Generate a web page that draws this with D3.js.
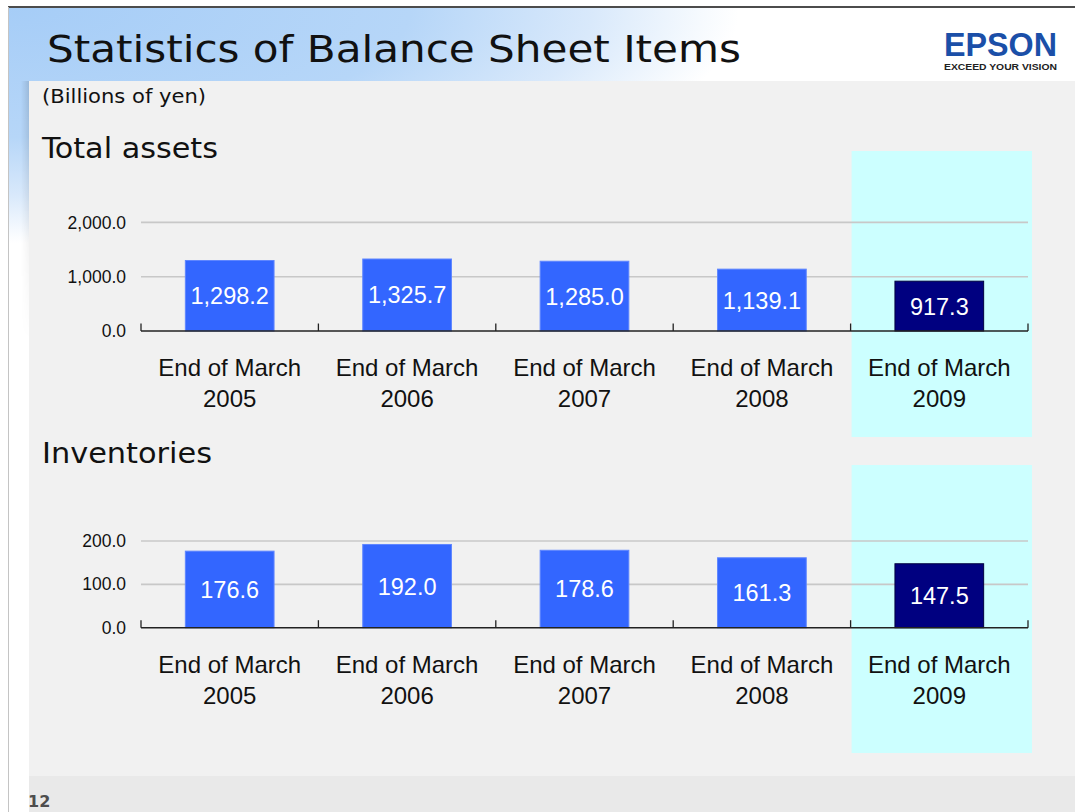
<!DOCTYPE html>
<html>
<head>
<meta charset="utf-8">
<script src="https://cdn.jsdelivr.net/npm/d3@7"></script>
<style>
  html, body { margin: 0; padding: 0; background: #ffffff; overflow: hidden; }
  svg { display: block; }
</style>
</head>
<body>
<svg id="chart" width="1075" height="812"></svg>
<script>
// ---------------- Data ----------------
const categories = ["End of March 2005", "End of March 2006", "End of March 2007", "End of March 2008", "End of March 2009"];
const totalAssets = [1298.2, 1325.7, 1285.0, 1139.1, 917.3];
const inventories = [176.6, 192.0, 178.6, 161.3, 147.5];
const assetTicks = [0, 1000, 2000];
const inventoryTicks = [0, 100, 200];
const highlightCategory = "End of March 2009";
const titleText = "Statistics of Balance Sheet Items";
const unitText = "(Billions of yen)";
const chartTitles = ["Total assets", "Inventories"];
const pageNumber = "12";

// ---------------- Setup ----------------
const svg = d3.select("#chart");
const W = 1075, H = 812;
const defs = svg.append("defs");

const rg = defs.append("radialGradient")
  .attr("id", "hdrGrad")
  .attr("gradientUnits", "userSpaceOnUse")
  .attr("cx", 0).attr("cy", 0).attr("r", 1)
  .attr("gradientTransform", "translate(9,8) scale(730,235)");
[[0, "#a6cdf7"], [0.55, "#b6d6f8"], [0.8, "#d9e9fb"], [0.95, "#f6fafe"], [1, "#ffffff"]]
  .forEach(([o, c]) => rg.append("stop").attr("offset", o).attr("stop-color", c));

const sh = defs.append("linearGradient").attr("id", "shadowGrad")
  .attr("x1", 0).attr("x2", 1).attr("y1", 0).attr("y2", 0);
sh.append("stop").attr("offset", 0).attr("stop-color", "#000").attr("stop-opacity", 0);
sh.append("stop").attr("offset", 1).attr("stop-color", "#000").attr("stop-opacity", 0.12);
const shMask = defs.append("linearGradient").attr("id", "shadowFade")
  .attr("x1", 0).attr("x2", 0).attr("y1", 0).attr("y2", 1);
shMask.append("stop").attr("offset", 0).attr("stop-color", "#fff").attr("stop-opacity", 1);
shMask.append("stop").attr("offset", 1).attr("stop-color", "#fff").attr("stop-opacity", 0);
defs.append("mask").attr("id", "shMask").append("rect")
  .attr("x", 20).attr("y", 81).attr("width", 10).attr("height", 260).attr("fill", "url(#shadowFade)");

// background
svg.append("rect").attr("x", 0).attr("y", 0).attr("width", W).attr("height", H).attr("fill", "#ffffff");
svg.append("rect").attr("x", 9).attr("y", 8).attr("width", W - 9).attr("height", H - 8).attr("fill", "url(#hdrGrad)");
// shadow left of panel
svg.append("rect").attr("x", 21).attr("y", 81).attr("width", 8).attr("height", 260)
  .attr("fill", "url(#shadowGrad)").attr("mask", "url(#shMask)");
// content panel
svg.append("rect").attr("x", 29).attr("y", 81).attr("width", W - 29).attr("height", 695).attr("fill", "#f1f1f1");
svg.append("rect").attr("x", 29).attr("y", 776).attr("width", W - 29).attr("height", 36).attr("fill", "#e9e9e9");
// frame lines
svg.append("line").attr("x1", 8).attr("x2", W).attr("y1", 7).attr("y2", 7).attr("stroke", "#111").attr("stroke-width", 1.5);
svg.append("line").attr("x1", 8.5).attr("x2", 8.5).attr("y1", 7).attr("y2", H).attr("stroke", "#c4c4c4").attr("stroke-width", 1);

// title
svg.append("text").attr("x", 47).attr("y", 62)
  .attr("font-family", "'DejaVu Sans Condensed', 'DejaVu Sans', sans-serif")
  .attr("font-size", 38).attr("fill", "#111")
  .attr("textLength", 694).attr("lengthAdjust", "spacingAndGlyphs")
  .text(titleText);

// logo
svg.append("text").attr("x", 944).attr("y", 56)
  .attr("font-family", "'Liberation Sans', Arial, sans-serif").attr("font-weight", "bold")
  .attr("font-size", 34).attr("fill", "#1b4fa8")
  .attr("textLength", 113).attr("lengthAdjust", "spacingAndGlyphs")
  .text("EPSON");
svg.append("text").attr("x", 944).attr("y", 70)
  .attr("font-family", "'Liberation Sans', Arial, sans-serif").attr("font-weight", "bold")
  .attr("font-size", 9.5).attr("fill", "#222")
  .attr("textLength", 113).attr("lengthAdjust", "spacingAndGlyphs")
  .text("EXCEED YOUR VISION");

// unit
svg.append("text").attr("x", 42).attr("y", 103)
  .attr("font-family", "'DejaVu Sans Condensed', 'DejaVu Sans', sans-serif")
  .attr("font-size", 19).attr("fill", "#111")
  .attr("textLength", 164).attr("lengthAdjust", "spacingAndGlyphs")
  .text(unitText);

// page number
svg.append("text").attr("x", 28).attr("y", 807)
  .attr("font-family", "'DejaVu Sans', sans-serif").attr("font-weight", "bold")
  .attr("font-size", 16).attr("fill", "#4d4d4d")
  .text(pageNumber);

// ---------------- Charts ----------------
const x = d3.scaleBand().domain(categories).range([141, 1028]).paddingInner(0.5).paddingOuter(0.25);
const step = x.step();
const sans = "'Liberation Sans', Arial, sans-serif";
const fmt = d3.format(",.1f");

function drawChart(cfg) {
  const { values, ticks, y0, yTop, titleY, title, titleLen, panelTop, panelBottom } = cfg;
  const y = d3.scaleLinear().domain([0, ticks[ticks.length - 1]]).range([y0, yTop]);
  const g = svg.append("g");

  // highlight panel
  const hx = x(highlightCategory) - x.paddingOuter() * step;
  g.append("rect").attr("x", hx + 1).attr("y", panelTop)
    .attr("width", step + 3).attr("height", panelBottom - panelTop)
    .attr("fill", "#ccffff");

  // chart title
  g.append("text").attr("x", 42).attr("y", titleY)
    .attr("font-family", "'DejaVu Sans Condensed', 'DejaVu Sans', sans-serif")
    .attr("font-size", 28).attr("fill", "#111")
    .attr("textLength", titleLen).attr("lengthAdjust", "spacingAndGlyphs")
    .text(title);

  // gridlines
  g.selectAll(".grid").data(ticks.filter(t => t > 0)).enter().append("line")
    .attr("x1", x.range()[0]).attr("x2", x.range()[1])
    .attr("y1", d => y(d)).attr("y2", d => y(d))
    .attr("stroke", "#c8c8c8").attr("stroke-width", 1.6);

  // y-axis labels
  const ya = g.append("g").attr("transform", "translate(126,0)")
    .call(d3.axisLeft(y).tickValues(ticks).tickFormat(fmt).tickSize(0).tickPadding(0));
  ya.select(".domain").remove();
  ya.selectAll("text").attr("font-family", sans).attr("font-size", 17.5).attr("fill", "#111");

  // bars
  g.selectAll(".bar").data(categories).enter().append("rect")
    .attr("x", d => x(d)).attr("width", x.bandwidth())
    .attr("y", (d, i) => y(values[i])).attr("height", (d, i) => y0 - y(values[i]))
    .attr("fill", d => d === highlightCategory ? "#000080" : "#3366ff")
    .attr("stroke", d => d === highlightCategory ? "#000040" : "#5f86ff")
    .attr("stroke-width", 1);

  // bar labels
  g.selectAll(".lbl").data(categories).enter().append("text")
    .attr("x", d => x(d) + x.bandwidth() / 2)
    .attr("y", (d, i) => (y(values[i]) + y0) / 2)
    .attr("dy", "0.36em").attr("text-anchor", "middle")
    .attr("font-family", sans).attr("font-size", 23.5).attr("fill", "#ffffff")
    .text((d, i) => fmt(values[i]));

  // x axis baseline and boundary ticks
  g.append("line").attr("x1", x.range()[0]).attr("x2", x.range()[1])
    .attr("y1", y0).attr("y2", y0).attr("stroke", "#222").attr("stroke-width", 1.6);
  const bounds = d3.range(categories.length + 1).map(i => x.range()[0] + i * step);
  g.selectAll(".tk").data(bounds).enter().append("line")
    .attr("x1", d => d).attr("x2", d => d)
    .attr("y1", y0).attr("y2", y0 - 7.5)
    .attr("stroke", "#222").attr("stroke-width", 1.3);

  // category labels
  const cl = g.selectAll(".cat").data(categories).enter().append("text")
    .attr("text-anchor", "middle").attr("font-family", sans).attr("font-size", 24).attr("fill", "#111");
  cl.append("tspan").attr("x", d => x(d) + x.bandwidth() / 2).attr("y", y0 + 45)
    .text(d => d.replace(/\s\d{4}$/, ""));
  cl.append("tspan").attr("x", d => x(d) + x.bandwidth() / 2).attr("y", y0 + 76)
    .text(d => d.match(/\d{4}$/)[0]);
}

drawChart({ values: totalAssets, ticks: assetTicks, y0: 331, yTop: 222.4, titleY: 158, title: chartTitles[0], titleLen: 176, panelTop: 151, panelBottom: 437 });
drawChart({ values: inventories, ticks: inventoryTicks, y0: 627.7, yTop: 541, titleY: 463, title: chartTitles[1], titleLen: 170, panelTop: 465, panelBottom: 753 });
</script>
</body>
</html>
